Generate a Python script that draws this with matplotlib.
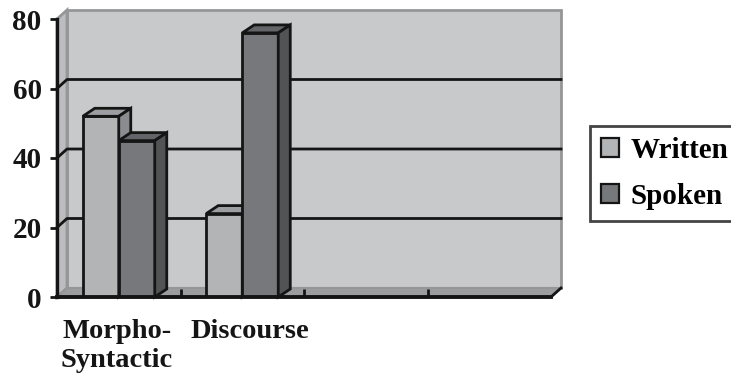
import matplotlib
matplotlib.use("Agg")
import matplotlib.pyplot as plt
from matplotlib.patches import Polygon

# data
categories = ["Morpho-\nSyntactic", "Discourse", "", ""]
written = [52, 24]
spoken = [45, 76]
series_names = ["Written", "Spoken"]
y_ticks = [0, 20, 40, 60, 80]

plt.rcParams["font.family"] = ["Liberation Serif", "DejaVu Serif"]
plt.rcParams["font.weight"] = "bold"

WALL = "#c8c9cb"
FLOOR = "#9c9d9f"
SIDE_WALL = "#bcbdbf"
EDGE_GRAY = "#959698"
W_FRONT, W_TOP, W_SIDE = "#b3b4b6", "#9d9ea1", "#8b8c8f"
S_FRONT, S_TOP, S_SIDE = "#77787b", "#646568", "#525355"
INK = "#151515"

fig = plt.figure(figsize=(7.31, 3.79), dpi=100)
ax = fig.add_axes([57 / 731, 1 - 297 / 379, 494 / 731, 278 / 379])
ax.set_facecolor("none")

n = len(categories)
x0, x1 = -0.5, n - 0.5
ymax = 80
ax.set_xlim(x0, x1)
ax.set_ylim(0, ymax)

# depth offsets (data units): wall and bars
px_x = (x1 - x0) / 494
px_y = ymax / 278
dxw, dyw = 10 * px_x, 9 * px_y
dxb, dyb = 12 * px_x, 8 * px_y


def poly(pts, fc, ec="none", lw=0, z=1):
    ax.add_patch(Polygon(pts, closed=True, facecolor=fc, edgecolor=ec,
                         linewidth=lw, zorder=z, clip_on=False, joinstyle="miter"))


# back wall, side wall, floor
poly([(x0 + dxw, dyw), (x1 + dxw, dyw), (x1 + dxw, ymax + dyw), (x0 + dxw, ymax + dyw)],
     WALL, EDGE_GRAY, 2, 0.5)
poly([(x0, 0), (x0, ymax), (x0 + dxw, ymax + dyw), (x0 + dxw, dyw)],
     SIDE_WALL, EDGE_GRAY, 2, 0.6)
poly([(x0, 0), (x1, 0), (x1 + dxw, dyw), (x0 + dxw, dyw)], FLOOR, EDGE_GRAY, 1.5, 0.7)
ax.plot([x1, x1 + dxw], [0, dyw], color=INK, lw=2, zorder=0.8, clip_on=False)

# gridlines on side wall and back wall
for v in y_ticks[1:-1]:
    ax.plot([x0, x0 + dxw, x1 + dxw], [v, v + dyw, v + dyw], color=INK,
            lw=2, zorder=0.9, clip_on=False)

# bars: front faces via ax.bar, top and side faces as polygons
bw = 36 * px_x
xs = list(range(len(written)))
groups = [
    (written, [x - bw for x in xs], W_FRONT, W_TOP, W_SIDE, series_names[0]),
    (spoken, xs, S_FRONT, S_TOP, S_SIDE, series_names[1]),
]
z = 2
for ci in xs:
    for vals, lefts, front, top, side, name in groups:
        v = vals[ci]
        l = lefts[ci]
        r = l + bw
        ax.bar(l, v, width=bw, align="edge", color=front, edgecolor=INK,
               linewidth=2, zorder=z, label=name if ci == 0 else None)
        poly([(l, v), (r, v), (r + dxb, v + dyb), (l + dxb, v + dyb)], top, INK, 2, z)
        poly([(r, 0), (r, v), (r + dxb, v + dyb), (r + dxb, dyb)], side, INK, 2, z)
        z += 1

# axes styling
for s in ["top", "right"]:
    ax.spines[s].set_visible(False)
ax.spines["left"].set_linewidth(2.4)
ax.spines["bottom"].set_linewidth(2.8)
ax.spines["left"].set_color(INK)
ax.spines["bottom"].set_color(INK)
ax.spines["left"].set_zorder(20)
ax.spines["bottom"].set_zorder(20)

ax.set_yticks(y_ticks)
ax.set_yticklabels([str(t) for t in y_ticks], fontsize=21, fontweight="bold")
ax.tick_params(axis="y", direction="out", length=5, width=2, pad=6, colors=INK)

ax.set_xticks([i + 0.5 for i in range(n - 1)])
ax.set_xticklabels([])
ax.tick_params(axis="x", which="major", direction="in", length=6, width=2, colors=INK)
# category labels sit slightly off-centre in the original
label_shift_px = [-2, 8, 0, 0]
ax.set_xticks([i + s * px_x for i, s in enumerate(label_shift_px)], minor=True)
ax.set_xticklabels(categories, minor=True, fontsize=20.5, fontweight="bold",
                   linespacing=1.22)
ax.tick_params(axis="x", which="minor", length=0, pad=16, colors=INK)

leg = fig.legend(loc="upper left", bbox_to_anchor=(590 / 731, 1 - 126 / 379),
                 prop={"size": 21, "weight": "bold"}, frameon=True, fancybox=False,
                 handlelength=0.62, handleheight=0.62, handletextpad=0.4,
                 labelspacing=0.64, borderpad=0.38, borderaxespad=0)
leg.get_frame().set_edgecolor(INK)
leg.get_frame().set_linewidth(2)
for h in leg.legend_handles:
    h.set_linewidth(1.6)

fig.savefig("out.png", dpi=100)
